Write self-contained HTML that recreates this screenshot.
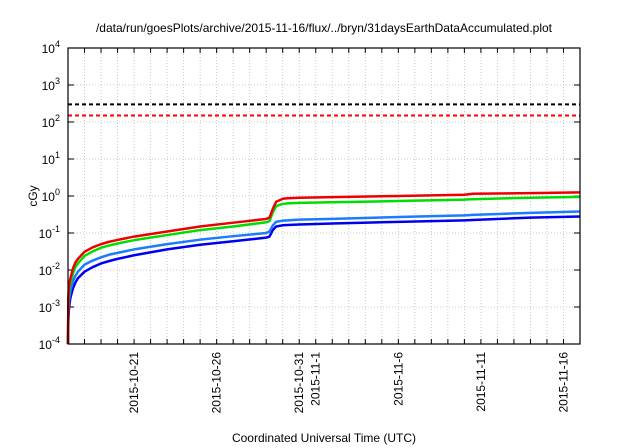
<!DOCTYPE html>
<html><head><meta charset="utf-8"><style>
body{margin:0;background:#fff;}
svg{display:block;font-family:"Liberation Sans",sans-serif;}
</style></head><body>
<svg id="chart" width="640" height="448">
<text x="324" y="32" font-size="12" text-anchor="middle">/data/run/goesPlots/archive/2015-11-16/flux/../bryn/31daysEarthDataAccumulated.plot</text>
<text x="324" y="442" font-size="12" text-anchor="middle">Coordinated Universal Time (UTC)</text>
<text transform="translate(37,196) rotate(-90)" font-size="12" text-anchor="middle">cGy</text>
<g id="grid"></g><g id="axes"></g><g id="series"></g>
<rect x="68" y="48" width="512" height="296" fill="none" stroke="#000" stroke-width="1.2"/>
</svg>
<script>
const decades=[-4,-3,-2,-1,0,1,2,3,4];
const dateLabels=["2015-10-21","2015-10-26","2015-10-31","2015-11-1","2015-11-6","2015-11-11","2015-11-16"];
const dateDays=[4,9,14,15,20,25,30];
const days=[0,0.02,0.05,0.1,0.15,0.3,0.45,0.6,1,1.5,2,2.5,3,4,6,8,10,12,12.2,12.4,12.6,12.9,13.0,13.3,14,16,20,24,24.5,28,31];
const redVals=[0.0001,0.0018,0.003,0.0048,0.006,0.011,0.016,0.02,0.031,0.041,0.05,0.058,0.065,0.08,0.11,0.15,0.19,0.24,0.26,0.45,0.7,0.8,0.84,0.87,0.9,0.93,1.0,1.08,1.15,1.2,1.25];
const greenVals=[0.0001,0.0012,0.002,0.0034,0.0045,0.008,0.012,0.015,0.024,0.032,0.04,0.046,0.052,0.064,0.088,0.12,0.15,0.195,0.21,0.36,0.53,0.59,0.61,0.63,0.65,0.68,0.73,0.8,0.82,0.9,0.95];
const ltblueVals=[0.0001,0.0007,0.0013,0.0021,0.0028,0.005,0.007,0.009,0.014,0.018,0.022,0.026,0.029,0.036,0.05,0.066,0.082,0.1,0.11,0.16,0.2,0.212,0.216,0.22,0.23,0.24,0.27,0.3,0.31,0.35,0.38];
const blueVals=[0.0001,0.0004,0.0008,0.0013,0.0018,0.0032,0.0046,0.006,0.009,0.012,0.015,0.0175,0.02,0.025,0.036,0.048,0.06,0.075,0.08,0.12,0.15,0.158,0.162,0.165,0.17,0.18,0.2,0.22,0.225,0.26,0.28];
const limitVals=[300,150];
const L=68,R=580,T=48,B=344,D0=0,D1=31;
const xs=d=>L+(d-D0)/(D1-D0)*(R-L);
const ys=v=>B-(Math.log10(v)+4)/8*(B-T);
const NS="http://www.w3.org/2000/svg";
function mk(tag,attrs,parent){const e=document.createElementNS(NS,tag);for(const k in attrs)e.setAttribute(k,attrs[k]);parent.appendChild(e);return e;}
const grid=document.getElementById('grid'),axes=document.getElementById('axes'),ser=document.getElementById('series');
for(let d=1;d<31;d++){
 const l=mk('line',{x1:xs(d),x2:xs(d),y1:T,y2:B,stroke:'#bbb','stroke-width':0.8,'stroke-dasharray':'1,2'},grid);
 
 
 const t1=mk('line',{x1:xs(d),x2:xs(d),y1:B,y2:B-5,stroke:'#000'},axes);
 
 
 const t2=mk('line',{x1:xs(d),x2:xs(d),y1:T,y2:T+5,stroke:'#000'},axes);
 
 
}
decades.forEach(p=>{
 const y=ys(Math.pow(10,p));
 if(p>-4&&p<4){const g=mk('line',{x1:L,x2:R,y1:y,y2:y,stroke:'#bbb','stroke-width':0.8,'stroke-dasharray':'1,2'},grid);
 
 }
 const t=mk('line',{x1:L,x2:L+6,y1:y,y2:y,stroke:'#000'},axes);
 
 
 const t2=mk('line',{x1:R,x2:R-6,y1:y,y2:y,stroke:'#000'},axes);
 
 
 const tx=mk('text',{x:L-8,y:y+5,'font-size':12,'text-anchor':'end'},axes);
 
 
 tx.textContent='10';
 const s=mk('tspan',{dy:-6,'font-size':9},tx);s.textContent=String(p);
});
dateLabels.forEach((lab,i)=>{
 const x=xs(dateDays[i]);
 const t=mk('text',{transform:`translate(${x+4},${B+8}) rotate(-90)`,'font-size':12,'text-anchor':'end'},axes);
 
 
 t.textContent=lab;
});
const limCols=['#000','#f00'];
limitVals.forEach((v,i)=>{
 const l=mk('line',{x1:L,x2:R,y1:ys(v),y2:ys(v),stroke:limCols[i],'stroke-width':2,'stroke-dasharray':'4,3'},ser);
 
 
});
const sets=[[blueVals,'#0000ee','blue-series'],[ltblueVals,'#1a7cff','light-blue-series'],[greenVals,'#00dd00','green-series'],[redVals,'#ee0000','red-series']];
sets.forEach(([vals,c,n])=>{
 const p=mk('polyline',{points:days.map((d,i)=>xs(d)+','+ys(vals[i])).join(' '),fill:'none',stroke:c,'stroke-width':2.5,'stroke-linejoin':'round'},ser);
 
 
});
</script>
</body></html>
